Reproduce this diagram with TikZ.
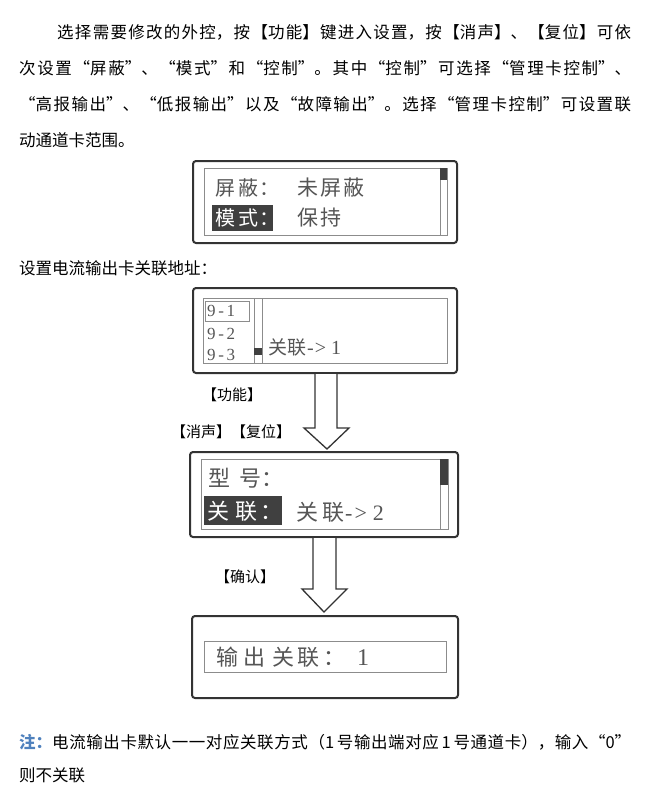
\documentclass[tikz,border=0pt]{standalone}
\usepackage{fontspec}
\setmainfont{Noto Sans CJK SC}
\newfontfamily\lcdlatin{Liberation Serif}
\usetikzlibrary{calc}
\XeTeXlinebreaklocale "zh"
\XeTeXlinebreakskip=0pt plus 8pt
\newcommand\justline[2]{\parbox[c]{#1}{\parfillskip=0pt\relax\parindent=0pt\relax #2}}
\definecolor{framec}{HTML}{333333}
\definecolor{screenc}{HTML}{8C8C8C}
\definecolor{hilc}{HTML}{404040}
\definecolor{lcdc}{HTML}{555555}
\definecolor{notec}{HTML}{4F81BD}
\begin{document}
\begin{tikzpicture}[x=1pt,y=-1pt,
  body/.style={anchor=west,inner sep=0pt,font=\fontsize{16.5}{16.5}\selectfont},
  lbl/.style={inner sep=0pt,font=\fontsize{15}{15}\selectfont},
  lcdframe/.style={draw=framec,line width=2pt,rounded corners=3pt,inner sep=0pt},
  lcdscreen/.style={draw=screenc,line width=0.9pt,inner sep=0pt},
  lcdtxt/.style={anchor=west,inner sep=0pt,text=lcdc},
  hilite/.style={fill=hilc,inner sep=0pt},
  hitxt/.style={anchor=west,inner sep=0pt,text=white},
  blockarrow/.style={draw=framec,line width=1.3pt,fill=white,line join=miter},
]
\useasboundingbox (0,0) rectangle (655,793);

% paragraph
\node[body] (p1) at (57,32) {\justline{574pt}{选择需要修改的外控，按【功能】键进入设置，按【消声】、【复位】可依}};
\node[body] (p2) at (19,68) {\justline{612pt}{次设置“屏蔽”、“模式”和“控制”。其中“控制”可选择“管理卡控制”、}};
\node[body] (p3) at (19,104) {\justline{612pt}{“高报输出”、“低报输出”以及“故障输出”。选择“管理卡控制”可设置联}};
\node[body] (p4) at (19,140) {动通道卡范围。};

% box 1
\node[lcdframe,minimum width=264pt,minimum height=82pt] (b1) at (325,202) {};
\node[lcdscreen,minimum width=243pt,minimum height=67pt] (s1) at (325.5,201.5) {};
\draw[screenc,line width=0.9pt] ($(s1.north east)+(-7,0)$) -- ($(s1.south east)+(-7,0)$);
\fill[hilc] ($(s1.north east)+(-7,0)$) rectangle ($(s1.north east)+(0,12)$);
\node[lcdtxt,font=\fontsize{20}{20}\selectfont] (t11) at (215,188) {屏\hspace{3pt}蔽\hspace{1pt}：};
\node[lcdtxt,font=\fontsize{21}{21}\selectfont] (t12) at (297,188) {未\hspace{2pt}屏\hspace{2pt}蔽};
\node[hilite,minimum width=61pt,minimum height=26pt] (h1) at (242.5,218) {};
\node[hitxt,font=\fontsize{20}{20}\selectfont] (t1h) at (215,218) {模\hspace{3pt}式\hspace{1pt}：};
\node[lcdtxt,font=\fontsize{21}{21}\selectfont] (t13) at (297,218) {保\hspace{2pt}持};

% caption
\node[body] (c1) at (19,268) {设置电流输出卡关联地址：};

% box 2
\node[lcdframe,minimum width=264pt,minimum height=85pt] (b2) at (325,330.5) {};
\node[lcdscreen,minimum width=244pt,minimum height=65pt] (s2) at (325,330.5) {};
\draw[screenc,line width=0.9pt] (254,298) -- (254,363) (262,298) -- (262,363);
\fill[hilc] (254,348) rectangle (262,355);
\node[lcdscreen,minimum width=44pt,minimum height=20pt] (i1) at (227,311) {};
\node[lcdtxt,font=\lcdlatin\fontsize{17}{17}\selectfont] (n1) at (207,311) {\hbox to 28pt{9\hfil-\hfil1}};
\node[lcdtxt,font=\lcdlatin\fontsize{17}{17}\selectfont] (n2) at (207,334) {\hbox to 28pt{9\hfil-\hfil2}};
\node[lcdtxt,font=\lcdlatin\fontsize{17}{17}\selectfont] (n3) at (207,355) {\hbox to 28pt{9\hfil-\hfil3}};
\node[lcdtxt,font=\fontsize{19}{19}\selectfont] (r1) at (268,347) {关联{\lcdlatin\fontsize{20}{20}\selectfont\hspace{1pt}-\hspace{1pt}>\hspace{5pt}1}};

% arrow 1
\draw[blockarrow] ($(b2.south)+(-10,0)$) -- ++(0,54) -- ++(-11,0) -- ($(b2.south)+(2,75)$) -- ($(b2.south)+(24,54)$) -- ++(-12,0) -- ($(b2.south)+(12,0)$);
\node[lbl] (k1) at (232,395) {【功能】};
\node[lbl] (k2) at (231,432) {【消声】【复位】};

% box 3
\node[lcdframe,minimum width=268pt,minimum height=85pt] (b3) at (324,494.5) {};
\node[lcdscreen,minimum width=247pt,minimum height=70pt] (s3) at (324.5,494) {};
\draw[screenc,line width=0.9pt] (440,459) -- (440,529);
\fill[hilc] (440,459) rectangle (448,485);
\node[lcdtxt,font=\fontsize{22}{22}\selectfont] (t31) at (208,478) {型\hspace{9pt}号\hspace{0pt}：};
\node[hilite,minimum width=78pt,minimum height=29pt] (h3) at (243,510.5) {};
\node[hitxt,font=\fontsize{22}{22}\selectfont] (t3h) at (207,511) {关\hspace{6pt}联\hspace{3pt}：};
\node[lcdtxt,font=\fontsize{22}{22}\selectfont] (t32) at (296,512) {关\hspace{4pt}联{\lcdlatin\fontsize{22}{22}\selectfont\hspace{1pt}-\hspace{2pt}>\hspace{6pt}2}};

% arrow 2
\draw[blockarrow] ($(b3.south)+(-11,0)$) -- ++(0,51) -- ++(-11,0) -- ($(b3.south)+(0,74)$) -- ($(b3.south)+(23,51)$) -- ++(-11,0) -- ($(b3.south)+(12,0)$);
\node[lbl] (k3) at (245,577) {【确认】};

% box 4
\node[lcdframe,minimum width=266pt,minimum height=82pt] (b4) at (325,657) {};
\node[lcdscreen,minimum width=242pt,minimum height=31pt] (s4) at (325,656.5) {};
\node[lcdtxt,font=\fontsize{22}{22}\selectfont] (t41) at (216,657) {输\hspace{5pt}出\hspace{7pt}关\hspace{3pt}联\hspace{4pt}：{\lcdlatin\fontsize{24}{24}\selectfont\hspace{12pt}1}};

% note
\node[body] (m1) at (19,742) {\justline{612pt}{{\color{notec}\bfseries 注：}电流输出卡默认一一对应关联方式（1\,号输出端对应\,1\,号通道卡），输入“0”}};
\node[body] (m2) at (19,775) {则不关联};
\end{tikzpicture}
\end{document}
